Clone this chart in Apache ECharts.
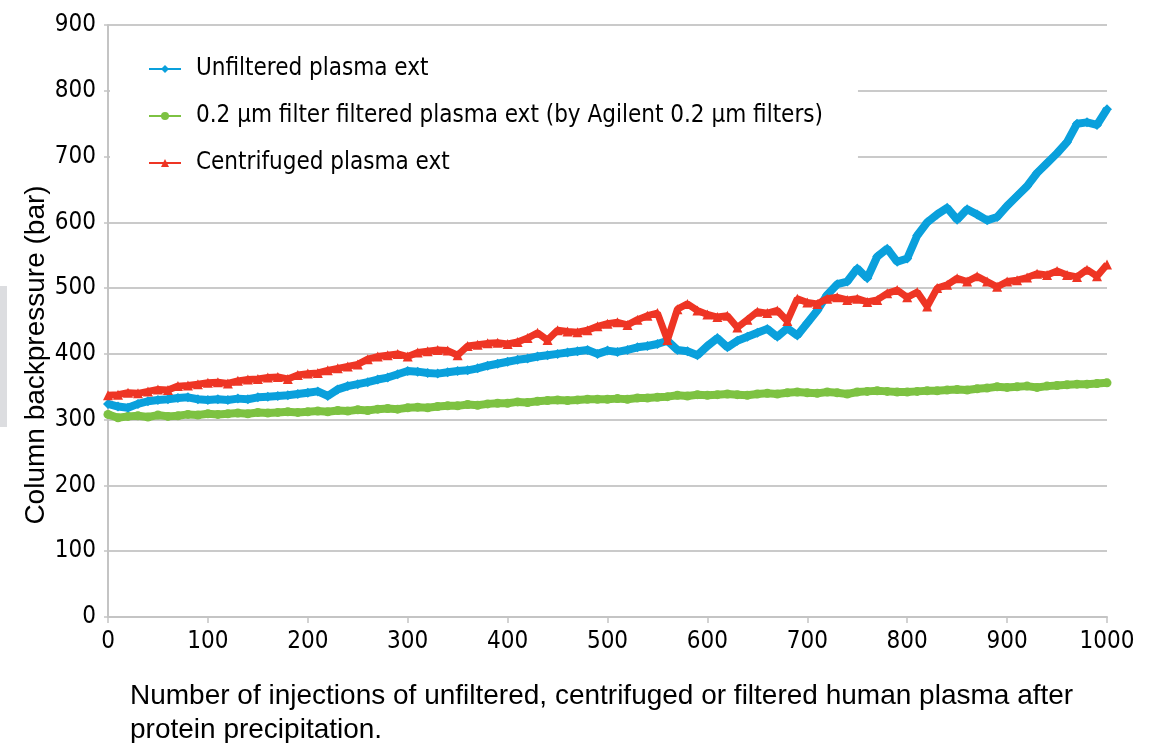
<!DOCTYPE html>
<html>
<head>
<meta charset="utf-8">
<script src="https://cdn.jsdelivr.net/npm/echarts@6/dist/echarts.min.js"></script>
<style>
  html, body { margin: 0; padding: 0; background: #fff; }
  #chart { width: 1160px; height: 743px; }
</style>
</head>
<body>
<div id="chart"></div>
<script>
// injection number (every 10th run)
const injections = [];
for (let i = 0; i <= 1000; i += 10) injections.push(i);

const yTicks = [0, 100, 200, 300, 400, 500, 600, 700, 800, 900];
const xTicks = [0, 100, 200, 300, 400, 500, 600, 700, 800, 900, 1000];

const seriesNames = [
    'Unfiltered plasma ext',
    '0.2 µm filter filtered plasma ext (by Agilent 0.2 µm filters)',
    'Centrifuged plasma ext'
];

// backpressure in bar
const unfiltered = [
    324, 320, 318, 324, 328, 330, 331, 333, 334, 331,
    330, 331, 330, 332, 331, 334, 335, 336, 337, 339,
    341, 343, 336, 346, 351, 354, 357, 361, 364, 369,
    374, 373, 371, 370, 372, 374, 375, 378, 382, 385,
    388, 391, 393, 396, 398, 400, 402, 404, 406, 400,
    405, 403, 406, 410, 412, 415, 420, 406, 404, 398,
    412, 424, 410, 420, 426, 432, 438, 426, 439, 428,
    447, 466, 490, 506, 510, 530, 515, 548, 560, 540,
    545, 580, 600, 612, 622, 604, 620, 612, 603, 608,
    625, 640, 655, 675, 690, 705, 722, 750, 752, 748, 772
];
const filtered = [
    308, 303, 305, 306, 304, 307, 305, 306, 308, 307,
    309, 308, 309, 310, 309, 311, 310, 311, 312, 311,
    312, 313, 312, 314, 313, 315, 314, 316, 317, 316,
    318, 319, 318, 320, 321, 321, 323, 322, 324, 325,
    325, 327, 326, 328, 329, 330, 329, 330, 331, 331,
    331, 332, 331, 333, 333, 334, 335, 337, 336, 338,
    337, 338, 339, 338, 337, 339, 340, 339, 341, 342,
    341, 340, 342, 341, 339, 342, 343, 344, 343, 342,
    342, 343, 344, 344, 345, 346, 345, 347, 348, 350,
    349, 350, 351, 349, 351, 352, 353, 354, 354, 355, 356
];
const centrifuged = [
    337, 338, 341, 340, 343, 346, 345, 351, 352, 354,
    356, 357, 355, 359, 361, 362, 364, 365, 362, 368,
    370, 371, 375, 378, 381, 384, 392, 396, 398, 400,
    396, 402, 404, 406, 405, 398, 412, 414, 416, 417,
    415, 418, 424, 432, 421, 436, 434, 433, 436, 442,
    446, 448, 444, 452, 458, 462, 421, 468, 476, 466,
    460, 456, 458, 440, 452, 464, 462, 466, 450, 484,
    478, 476, 484, 486, 482, 484, 479, 482, 492, 497,
    486, 494, 472, 500, 505, 515, 510, 518, 510, 502,
    510, 512, 516, 522, 520, 526, 520, 517, 528, 518, 536
];

const colors = ['#0aa0dc', '#7dc242', '#ee3524'];
const condensed = '"DejaVu Sans Condensed", "Liberation Sans Narrow", sans-serif';

const chart = echarts.init(document.getElementById('chart'));

const pairs = (vals) => injections.map((x, i) => [x, vals[i]]);

const options = {
    animation: false,
    color: colors,
    grid: { left: 108, right: 53, top: 25, bottom: 126, containLabel: false },
    legend: {
        orient: 'vertical',
        left: 110,
        top: 39,
        padding: [16, 35, 10, 38],
        backgroundColor: '#fff',
        itemWidth: 32,
        itemHeight: 10,
        itemGap: 19,
        lineStyle: { width: 2 },
        textStyle: { fontFamily: condensed, fontSize: 24, color: '#000', lineHeight: 28, padding: [0, 0, 0, 10] },
        data: seriesNames
    },
    xAxis: {
        type: 'value',
        min: 0,
        max: 1000,
        interval: 100,
        axisLine: { lineStyle: { color: '#c4c4c4', width: 2 } },
        axisTick: { show: true, length: 6, lineStyle: { color: '#c4c4c4', width: 1.5 } },
        axisLabel: {
            fontFamily: condensed, fontSize: 24, color: '#000', margin: 13,
            formatter: (v) => xTicks.includes(v) ? String(v) : ''
        },
        splitLine: { show: false }
    },
    yAxis: {
        type: 'value',
        min: 0,
        max: 900,
        interval: 100,
        axisLine: { show: true, lineStyle: { color: '#c4c4c4', width: 2 } },
        axisTick: { show: true, length: 4, lineStyle: { color: '#c4c4c4', width: 1.5 } },
        axisLabel: {
            fontFamily: condensed, fontSize: 24, color: '#000', margin: 12,
            formatter: (v) => yTicks.includes(v) ? String(v) : ''
        },
        splitLine: { lineStyle: { color: '#cacaca', width: 2 } }
    },
    graphic: [
        {
            type: 'rect', left: 0, top: 286, z: 0,
            shape: { width: 7, height: 141 },
            style: { fill: '#dcdde0' }
        },
        {
            type: 'text', x: 36, y: 355, rotation: Math.PI / 2,
            style: {
                text: 'Column backpressure (bar)',
                font: '28px "Liberation Sans", Arial, sans-serif',
                fill: '#000', align: 'center', verticalAlign: 'middle'
            }
        },
        {
            type: 'text', left: 130, top: 679,
            style: {
                text: 'Number of injections of unfiltered, centrifuged or filtered human plasma after\nprotein precipitation.',
                font: '28px "Liberation Sans", Arial, sans-serif',
                lineHeight: 34,
                fill: '#000'
            }
        }
    ],
    series: [
        {
            name: seriesNames[0], type: 'line', data: pairs(unfiltered),
            symbol: 'diamond', symbolSize: 10, z: 3,
            lineStyle: { width: 8 }, itemStyle: { color: colors[0] }
        },
        {
            name: seriesNames[1], type: 'line', data: pairs(filtered),
            symbol: 'circle', symbolSize: 9, z: 2,
            lineStyle: { width: 8 }, itemStyle: { color: colors[1] }
        },
        {
            name: seriesNames[2], type: 'line', data: pairs(centrifuged),
            symbol: 'triangle', symbolSize: 10, z: 4,
            lineStyle: { width: 7 }, itemStyle: { color: colors[2] }
        }
    ]
};

chart.setOption(options);
</script>
</body>
</html>
